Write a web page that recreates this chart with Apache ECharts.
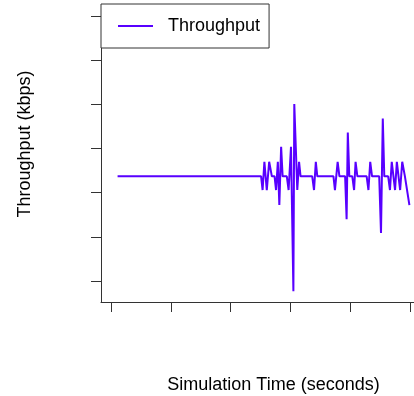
<!DOCTYPE html>
<html>
<head>
<meta charset="utf-8">
<script src="https://cdn.jsdelivr.net/npm/echarts@6/dist/echarts.min.js"></script>
<style>
  html, body { margin: 0; padding: 0; background: #fff; }
  #chart { width: 414px; height: 396px; }
</style>
</head>
<body>
<div id="chart"></div>
<script>
// time (s) and throughput (kbps)
const times = [
  2.2, 50.2, 50.7, 51.3, 52.1, 52.9, 53.8, 54.7, 55.2, 55.8,
  56.3, 56.9, 57.4, 58.8, 59.4, 60.2, 61.0, 61.3, 62.3, 62.9,
  63.4, 67.3, 67.9, 68.5, 69.0, 74.4, 74.9, 75.8, 76.4, 78.3,
  78.8, 79.2, 79.7, 80.7, 81.3, 81.8, 82.4, 85.5, 86.1, 86.7,
  87.3, 89.7, 90.3, 90.9, 91.4, 92.7, 93.3, 93.9, 95.0, 95.6,
  96.7, 97.4, 98.3, 98.9, 99.8
];
const throughput = [
  337, 337, 306, 370, 306, 370, 337, 337, 306, 370,
  272, 404, 337, 337, 306, 404, 77, 501, 306, 370,
  337, 337, 306, 370, 337, 337, 306, 370, 337, 337,
  240, 436, 337, 337, 306, 370, 337, 337, 306, 370,
  337, 337, 209, 468, 337, 337, 306, 370, 306, 370,
  306, 370, 337, 337, 272
];
const xTicks = [0, 20, 40, 60, 80, 100];
const yTicks = [100, 200, 300, 400, 500, 600, 700];

const axisColor = '#333';
const lineColor = '#5800ff';

const chart = echarts.init(document.getElementById('chart'), null, { renderer: 'canvas' });

chart.setOption({
  animation: false,
  backgroundColor: '#fff',
  textStyle: { fontFamily: 'Liberation Sans, Arial, sans-serif' },
  // plot region runs past the right edge of the picture
  grid: { left: 101, right: -32, top: 5, bottom: 94, outerBoundsMode: 'none', containLabel: false },
  xAxis: {
    type: 'value',
    min: -3.344,
    max: 112.04,
    name: 'Simulation Time (seconds)',
    nameLocation: 'middle',
    nameGap: 74,
    nameTextStyle: { color: '#000', fontSize: 18 },
    axisLine: { show: true, onZero: false, lineStyle: { color: axisColor, width: 1 } },
    axisTick: { show: true, length: 10, inside: false, customValues: xTicks, lineStyle: { color: axisColor } },
    axisLabel: { show: false },
    splitLine: { show: false }
  },
  yAxis: {
    type: 'value',
    min: 52.5,
    max: 725,
    name: 'Throughput (kbps)',
    nameLocation: 'middle',
    nameGap: 67,
    nameTextStyle: { color: '#000', fontSize: 18, padding: [0, 0, 0, 19] },
    axisLine: { show: true, onZero: false, lineStyle: { color: axisColor, width: 1 } },
    axisTick: { show: true, length: 10, inside: false, customValues: yTicks, lineStyle: { color: axisColor } },
    axisLabel: { show: false },
    splitLine: { show: false }
  },
  legend: {
    left: 101,
    top: 4,
    orient: 'vertical',
    padding: [13, 9, 13, 17],
    borderColor: axisColor,
    borderWidth: 1,
    backgroundColor: '#fff',
    itemWidth: 35,
    itemHeight: 2,
    textStyle: { color: '#000', fontSize: 18, lineHeight: 18, padding: [0, 0, 0, 10] },
    data: [{ name: 'Throughput', icon: 'rect' }]
  },
  series: [{
    name: 'Throughput',
    type: 'line',
    data: times.map((t, i) => [t, throughput[i]]),
    symbol: 'none',
    lineStyle: { color: lineColor, width: 2 },
    itemStyle: { color: lineColor }
  }]
});
</script>
</body>
</html>
